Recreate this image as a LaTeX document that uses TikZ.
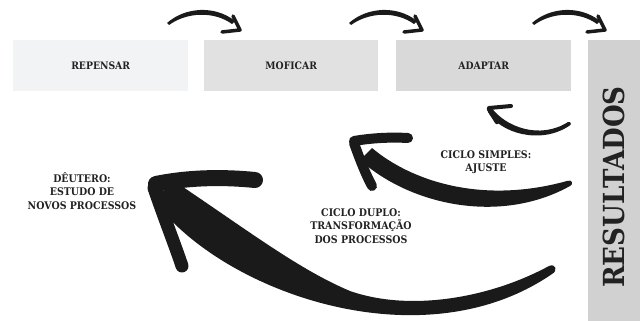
\documentclass[tikz,border=0pt]{standalone}
\usepackage{fontspec}
\setmainfont{DejaVu Serif}
\newfontfamily\slabfont{DejaVu Serif Condensed Bold}
\definecolor{cA}{HTML}{F2F3F4}
\definecolor{cB}{HTML}{E1E1E1}
\definecolor{cC}{HTML}{D9D9D9}
\definecolor{cD}{HTML}{D1D1D1}
\definecolor{txt}{HTML}{222222}
\definecolor{inkc}{HTML}{1A1A1A}
\begin{document}
\begin{tikzpicture}[x=1pt,y=-1pt,
  box/.style={draw=none, inner sep=0pt, anchor=north west, minimum height=51pt,
    font=\slabfont\fontsize{10.3}{12}\selectfont, text=txt},
  lbl/.style={align=center, inner sep=0pt, text=txt,
    font=\slabfont\fontsize{10.5}{13.5}\selectfont},
  ink/.style={fill=inkc},
  arm/.style={draw=inkc, line cap=round, line join=round}]
\useasboundingbox (0,0) rectangle (640,321);
% boxes
\node[box, fill=cA, minimum width=175pt] (repensar) at (13,40) {REPENSAR};
\node[box, fill=cB, minimum width=174pt] (mof) at (204,40) {MOFICAR};
\node[box, fill=cC, minimum width=175pt] (adapt) at (396,40) {ADAPTAR};
\node[box, fill=cD, minimum width=52pt, minimum height=281pt] (res) at (588,40) {};
\node[rotate=90, inner sep=0pt, text=txt, font=\slabfont\fontsize{29}{29}\selectfont] (restxt) at (614,187) {RESULTADOS};
% labels
\node[lbl] (dt) at (82,191) {DÊUTERO:\\ESTUDO DE\\NOVOS PROCESSOS};
\node[lbl] (cd) at (361,226) {CICLO DUPLO:\\TRANSFORMAÇÃO\\DOS PROCESSOS};
\node[lbl] (cs) at (486,162) {CICLO SIMPLES:\\AJUSTE};
% top arrows
\foreach \dx in {0,182,365}{
  \begin{scope}[xshift=\dx]
    \fill[ink] (167,23) .. controls (185,7) and (215,5) .. (235,21) -- (232,24) .. controls (214,11) and (187,12) .. (169,25) -- cycle;
    \draw[arm, line width=3.5] (233,16) -- (240,30) -- (222,32);
  \end{scope}
}
% big arrow
\fill[ink] (180,185) .. controls (250,232) and (300,270) .. (350,291) .. controls (410,312) and (490,298) .. (549,266) .. controls (556,263) and (558,271) .. (552,274) .. controls (420,365) and (215,290) .. (150,195) -- cycle;
\draw[arm, line width=16] (156,184) .. controls (190,177) and (225,177) .. (255,180);
\draw[arm, line width=13] (154,188) .. controls (165,220) and (175,245) .. (182,266);
% medium arrow
\fill[ink] (372,148) .. controls (410,180) and (480,205) .. (567,181) .. controls (572,179) and (574,184) .. (570,186) .. controls (500,225) and (410,205) .. (360,160) -- cycle;
\draw[arm, line width=10] (354,141) .. controls (372,138) and (390,137) .. (408,138);
\draw[arm, line width=10] (354,143) .. controls (360,160) and (366,175) .. (372,186);
% small arrow
\fill[ink] (491,107) .. controls (505,127) and (540,140) .. (568,122) .. controls (571,121) and (572,125) .. (569,126) .. controls (540,145) and (500,133) .. (488,112) -- cycle;
\draw[arm, line width=4] (489,108) -- (511,106);
\draw[arm, line width=4.5] (489,109) -- (497,122);
\end{tikzpicture}
\end{document}
